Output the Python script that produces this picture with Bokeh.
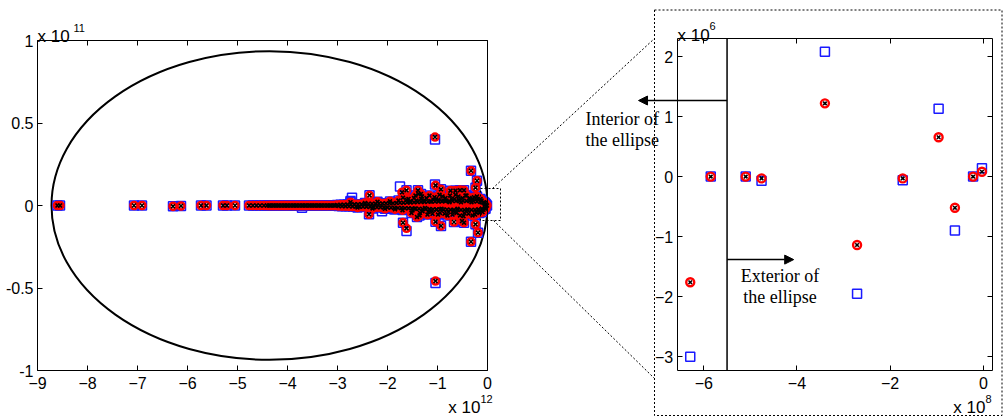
from bokeh.plotting import figure
from bokeh.models import (Range1d, LinearAxis, FixedTicker, Label, Arrow, NormalHead,
                          CustomJSTickFormatter)
from bokeh.embed import file_html
from bokeh.resources import INLINE

# ---------------- data: left panel (x in 1e12, y in 1e11) ----------------
far_x = [-8.60, -8.55, -7.07, -6.91, -6.29, -6.13, -5.73, -5.62, -5.29, -5.21, -5.05]
far_y = [0.0, 0.0, 0.0, 0.0, -0.005, -0.003, 0.0, 0.0, 0.0, 0.0, 0.0]

streak_x = [-4.77, -4.69, -4.62, -4.55, -4.47, -4.41, -4.37, -4.34, -4.30, -4.27, -4.23, -4.19,
            -4.16, -4.12, -4.08, -4.05, -4.01, -3.98, -3.94, -3.90, -3.87, -3.83, -3.80, -3.76,
            -3.72, -3.69, -3.65, -3.62, -3.58, -3.55, -3.51, -3.47, -3.44, -3.40, -3.37, -3.33,
            -3.30, -3.26, -3.22, -3.19, -3.15, -3.12, -3.08, -3.05, -3.01, -2.98, -2.94, -2.91,
            -2.87, -2.84, -2.80, -2.77, -2.73, -2.70, -2.66, -2.63, -2.59, -2.56, -2.52, -2.49,
            -2.45, -2.42, -2.38, -2.35, -2.31, -2.28, -2.24, -2.21, -2.17, -2.14, -2.10, -2.07,
            -2.03, -2.00, -1.96, -1.93, -1.89, -1.86, -1.82, -1.79, -1.75, -1.72, -1.68, -1.65,
            -1.61, -1.58, -1.54, -1.51, -1.47, -1.44, -1.40, -1.37, -1.33, -1.30, -1.26, -1.23,
            -1.19, -1.16, -1.12, -1.09, -1.05, -1.02, -0.98, -0.95, -0.91, -0.88, -0.84, -0.81,
            -0.77, -0.74, -0.70, -0.67, -0.63, -0.60, -0.56, -0.53, -0.49, -0.46, -0.42, -0.39,
            -0.35, -0.32, -0.28, -0.25, -0.21, -0.18, -0.14, -0.11, -0.08, -0.05, -0.03, -0.01]
streak_y = [0.0, 0.0, 0.0, 0.0, 0.0, 0.0, 0.0, 0.0, 0.0, 0.0, 0.0, 0.0,
            0.0, 0.0, 0.0, 0.0, 0.0, 0.0, 0.0, 0.0, 0.0, 0.0, 0.0, 0.0,
            0.0, 0.0, 0.0, 0.0, 0.0, 0.0, 0.0, 0.0, 0.0, 0.0, 0.0, 0.0,
            0.0, 0.0, 0.0, 0.0, 0.0, 0.0, 0.0, 0.0, 0.003, -0.003, 0.004, -0.004,
            0.005, -0.004, 0.006, -0.005, 0.006, -0.006, 0.007, -0.006, 0.008, -0.007, 0.008, -0.008,
            0.009, -0.008, 0.010, -0.009, 0.010, -0.010, 0.011, -0.010, 0.012, -0.011, 0.012, -0.012,
            0.013, -0.012, 0.014, -0.013, 0.014, -0.014, 0.015, -0.015, 0.016, -0.015, 0.017, -0.016,
            0.018, -0.017, 0.019, -0.018, 0.020, -0.019, 0.021, -0.020, 0.022, -0.021, 0.022, -0.022,
            0.023, -0.022, 0.024, -0.023, 0.024, -0.024, 0.025, -0.024, 0.025, -0.025, 0.026, -0.025,
            0.026, -0.026, 0.027, -0.026, 0.027, -0.027, 0.027, -0.027, 0.028, -0.027, 0.028, -0.028,
            0.027, -0.027, 0.026, -0.026, 0.024, -0.023, 0.021, -0.020, 0.016, -0.014, 0.008, 0.0]

cloud_x = [-2.74, -2.60, -2.45, -2.30, -2.20, -2.05, -1.95, -1.85, -1.78, -1.70, -1.62, -1.55, -1.50,
           -1.47, -1.44, -1.41, -1.38, -1.36, -1.33, -1.30, -1.27, -1.22, -1.18, -1.14, -1.10, -1.06,
           -1.02, -0.98, -0.95, -0.90, -0.86, -0.82, -0.78, -0.75, -0.70, -0.66, -0.62, -0.58, -0.55,
           -0.50, -0.46, -0.42, -0.38, -0.35, -0.30, -0.27, -0.23, -0.20, -0.16, -0.12, -0.08, -0.05]
cloud_y = [0.020, -0.012, 0.015, -0.018, 0.022, -0.020, 0.025, -0.022, 0.030, -0.028, 0.035, 0.025, -0.030,
           0.045, 0.060, -0.070, 0.070, -0.060, 0.040, -0.035, 0.030, 0.045, -0.040, 0.025, -0.050, 0.050,
           -0.025, 0.035, -0.045, 0.055, -0.050, 0.030, -0.040, 0.060, -0.055, 0.040, -0.045, 0.055, -0.060,
           0.045, -0.045, 0.060, -0.050, 0.035, -0.060, 0.050, -0.040, 0.040, -0.045, 0.030, -0.025, 0.015]

core_x = [-1.58, -1.52, -1.46, -1.42, -1.35, -1.31, -1.25, -1.20, -1.16, -1.12, -1.08, -1.03, -0.99,
          -0.96, -0.92, -0.88, -0.84, -0.80, -0.76, -0.72, -0.68, -0.64, -0.60, -0.57, -0.53, -0.48,
          -0.44, -0.40, -0.36, -0.32, -0.29, -0.25, -0.21, -0.18, -0.14, -0.10, -0.07, -0.04]
core_y = [0.040, -0.045, -0.020, 0.030, -0.045, 0.055, -0.015, -0.055, 0.060, -0.030, 0.035, 0.040, -0.055,
          0.065, -0.020, 0.030, 0.045, -0.060, 0.020, 0.040, -0.035, 0.065, -0.020, 0.035, 0.020, -0.065,
          0.060, -0.025, 0.045, 0.020, 0.040, -0.055, 0.055, -0.030, 0.040, -0.040, 0.020, -0.020]

red_out_x = [-2.36, -2.37, -1.71, -1.62, -1.69, -1.39, -1.33, -1.04, -0.93, -0.74, -0.64, -0.55, -0.47, -0.33,
             -0.21, -0.24, -1.69, -1.62, -1.04, -0.93, -0.67, -0.51, -0.47, -0.24, -0.19, -0.33, -1.05, -1.04]
red_out_y = [0.062, -0.053, 0.080, 0.092, 0.047, 0.092, 0.070, 0.122, 0.098, 0.090, 0.090, 0.093, 0.092, 0.210,
             0.150, 0.108, -0.104, -0.138, -0.098, -0.124, -0.100, -0.094, -0.104, -0.114, -0.165, -0.220, 0.415, -0.458]

blue_out_x = [-2.36, -2.37, -1.75, -1.62, -1.69, -1.39, -1.33, -1.05, -0.93, -0.74, -0.64, -0.55, -0.47, -0.33,
              -0.21, -0.24, -1.69, -1.62, -1.04, -0.93, -0.67, -0.51, -0.47, -0.24, -0.19, -0.33, -1.05, -1.04,
              -3.71, -2.74, -2.71, -2.11, -1.87]
blue_out_y = [0.062, -0.053, 0.115, 0.092, 0.047, 0.092, 0.070, 0.128, 0.098, 0.090, 0.090, 0.093, 0.092, 0.210,
              0.150, 0.108, -0.104, -0.155, -0.098, -0.124, -0.100, -0.094, -0.104, -0.114, -0.165, -0.220, 0.400, -0.470,
              -0.013, 0.027, 0.047, -0.035, -0.022]

ellipse_cx, ellipse_cy = -4.36, 0.0
ellipse_w, ellipse_h = 8.72, 1.87

left_xlim, left_ylim = (-9, 0), (-1, 1)
left_xticks = [-9, -8, -7, -6, -5, -4, -3, -2, -1, 0]
left_xlabels = ["\u22129", "\u22128", "\u22127", "\u22126", "\u22125", "\u22124", "\u22123", "\u22122", "\u22121", "0"]
left_yticks = [-1, -0.5, 0, 0.5, 1]
left_ylabels = ["-1", "-0.5", "0", "0.5", "1"]

# zoom window drawn on the left panel
zoom_box_x = (-0.14, 0.26)
zoom_box_y = (-0.091, 0.103)

# ---------------- data: right panel (x in 1e8, y in 1e6) ----------------
zb_x = [-6.29, -5.85, -5.10, -4.76, -3.40, -2.71, -1.73, -0.96, -0.61, -0.22, -0.03]
zb_y = [-3.00, 0.00, 0.00, -0.07, 2.08, -1.95, -0.06, 1.13, -0.90, 0.00, 0.14]
zr_x = [-6.29, -5.85, -5.10, -4.76, -3.40, -2.71, -1.73, -0.96, -0.61, -0.22, -0.03]
zr_y = [-1.76, 0.00, 0.00, -0.03, 1.22, -1.14, -0.03, 0.655, -0.52, 0.00, 0.08]

right_xlim, right_ylim = (-6.57, 0.19), (-3.23, 2.295)
right_xticks = [-6, -4, -2, 0]
right_xlabels = ["\u22126", "\u22124", "\u22122", "0"]
right_yticks = [-3, -2, -1, 0, 1, 2]
right_ylabels = ["\u22123", "\u22122", "\u22121", "0", "1", "2"]
boundary_x = -5.5
interior_arrow = (-5.5, -7.40, 1.267)
exterior_arrow = (-5.5, -4.07, -1.383)

TICK_FONT = "Liberation Sans"
SERIF = "Liberation Serif"

# ---------------- layout (one canvas, panels placed through extra ranges) ----------------
CW, CH = 1003, 420


def f(x):  # reference pixel x -> canvas x
    return x


def g(y):  # reference pixel y -> canvas y (downwards)
    return y


def xrange_for(d0, d1, p0, p1):
    ppu = (p1 - p0) / (d1 - d0)
    return Range1d(d0 - p0 / ppu, d1 + (CW - p1) / ppu)


def yrange_for(dbot, dtop, pbot, ptop):
    ppu = (pbot - ptop) / (dtop - dbot)
    return Range1d(dbot - (CH - pbot) / ppu, dtop + ptop / ppu)


p = figure(width=CW, height=CH, x_range=Range1d(0, CW), y_range=Range1d(CH, 0),
           x_axis_type=None, y_axis_type=None, output_backend="svg", toolbar_location=None,
           min_border=0, min_border_left=0, min_border_right=0, min_border_top=0, min_border_bottom=0)
p.outline_line_color = None
p.xgrid.visible = False
p.ygrid.visible = False
p.background_fill_color = "white"
p.border_fill_color = "white"

p.extra_x_ranges = {
    "lx": xrange_for(left_xlim[0], left_xlim[1], f(37), f(487)),
    "rx": xrange_for(right_xlim[0], right_xlim[1], f(676.7), f(991.7)),
}
p.extra_y_ranges = {
    "ly": yrange_for(left_ylim[0], left_ylim[1], g(370), g(40)),
    "ry": yrange_for(right_ylim[0], right_ylim[1], g(370), g(38.3)),
}

BLANK = CustomJSTickFormatter(code="return ''")


def panel_axes(xn, yn, xlim, ylim, xt, xl, yt, yl):
    common = dict(x_range_name=xn, y_range_name=yn, major_tick_in=5, major_tick_out=0,
                  minor_tick_line_color=None, axis_line_color="black", axis_line_width=1,
                  major_tick_line_color="black", major_label_text_font=TICK_FONT,
                  major_label_text_font_size="16px", major_label_text_color="black")
    p.add_layout(LinearAxis(fixed_location=ylim[0], bounds=xlim, ticker=FixedTicker(ticks=xt),
                            major_label_overrides={t: s for t, s in zip(xt, xl)},
                            major_label_standoff=6, **common), "below")
    p.add_layout(LinearAxis(fixed_location=ylim[1], bounds=xlim, ticker=FixedTicker(ticks=xt),
                            formatter=BLANK, major_label_standoff=0, **common), "above")
    p.add_layout(LinearAxis(fixed_location=xlim[0], bounds=ylim, ticker=FixedTicker(ticks=yt),
                            major_label_overrides={t: s for t, s in zip(yt, yl)},
                            major_label_standoff=4, **common), "left")
    p.add_layout(LinearAxis(fixed_location=xlim[1], bounds=ylim, ticker=FixedTicker(ticks=yt),
                            formatter=BLANK, major_label_standoff=0, **common), "right")


def markers(xn, yn, bx, by, rx, ry, kx, ky, sq, ci, ciw, xs):
    p.scatter(bx, by, marker="square", size=sq, fill_color=None, line_color="#1a1aff",
              line_width=1.5, x_range_name=xn, y_range_name=yn)
    p.scatter(rx, ry, marker="circle", size=ci, fill_color=None, line_color="#ff0000",
              line_width=ciw, x_range_name=xn, y_range_name=yn)
    p.scatter(kx, ky, marker="x", size=xs, line_color="black", line_width=1.6,
              x_range_name=xn, y_range_name=yn)


def label(x, y, text, size, font=TICK_FONT, align="left"):
    p.add_layout(Label(x=x, y=y, text=text, text_align=align, text_baseline="alphabetic",
                       text_font=font, text_font_size=size, text_color="black"))


# ---- left panel ----
p.ellipse(x=[ellipse_cx], y=[ellipse_cy], width=[ellipse_w], height=[ellipse_h],
          fill_color=None, line_color="black", line_width=2, x_range_name="lx", y_range_name="ly")
common_x = far_x + streak_x + cloud_x + core_x
common_y = far_y + streak_y + cloud_y + core_y
markers("lx", "ly", common_x + blue_out_x, common_y + blue_out_y,
        common_x + red_out_x, common_y + red_out_y,
        common_x + red_out_x, common_y + red_out_y, 9, 7, 2.6, 5.5)
panel_axes("lx", "ly", left_xlim, left_ylim, left_xticks, left_xlabels, left_yticks, left_ylabels)
p.quad(left=[zoom_box_x[0]], right=[zoom_box_x[1]], bottom=[zoom_box_y[0]], top=[zoom_box_y[1]],
       fill_color=None, line_color="black", line_width=1, line_dash="2 2",
       x_range_name="lx", y_range_name="ly")

# ---- right panel ----
p.segment(x0=[boundary_x], y0=[right_ylim[0]], x1=[boundary_x], y1=[right_ylim[1]],
          line_color="black", line_width=1.5, x_range_name="rx", y_range_name="ry")
markers("rx", "ry", zb_x, zb_y, zr_x, zr_y, zr_x, zr_y, 9, 8, 2.4, 5)
panel_axes("rx", "ry", right_xlim, right_ylim, right_xticks, right_xlabels, right_yticks, right_ylabels)
for (x0, x1, yy) in (interior_arrow, exterior_arrow):
    p.add_layout(Arrow(end=NormalHead(size=9, fill_color="black", line_color="black"),
                       x_start=x0, y_start=yy, x_end=x1, y_end=yy, line_color="black", line_width=1.5,
                       x_range_name="rx", y_range_name="ry"))

# ---- texts ----
label(f(37), g(35.5), "x 10", "17px")
label(f(73), g(27), "11", "11px")
label(f(480), g(407), "x 10", "17px", align="right")
label(f(480), g(398), "12", "11px")
label(f(677), g(35), "x 10", "17px")
label(f(709), g(25.5), "6", "11px")
label(f(985), g(407), "x 10", "17px", align="right")
label(f(985), g(398), "8", "11px")
label(f(585), g(118.3), "Interior of", "18px", font=SERIF)
label(f(585), g(139.5), "the ellipse", "18px", font=SERIF)
label(f(779.5), g(275), "Exterior of", "18px", font=SERIF, align="center")
label(f(779.5), g(296), "the ellipse", "18px", font=SERIF, align="center")

# ---- outer dotted frame of the zoomed panel and connector lines ----
p.quad(left=[f(654)], right=[f(1001.5)], top=[g(9.5)], bottom=[g(415)], fill_color=None,
       line_color="black", line_width=1, line_dash="2 2")
p.segment(x0=[f(492), f(493)], y0=[g(188), g(220)], x1=[f(654), f(654)], y1=[g(38), g(378)],
          line_color="black", line_width=1, line_dash="2 2")

open("out.html", "w").write(file_html(p, INLINE))
